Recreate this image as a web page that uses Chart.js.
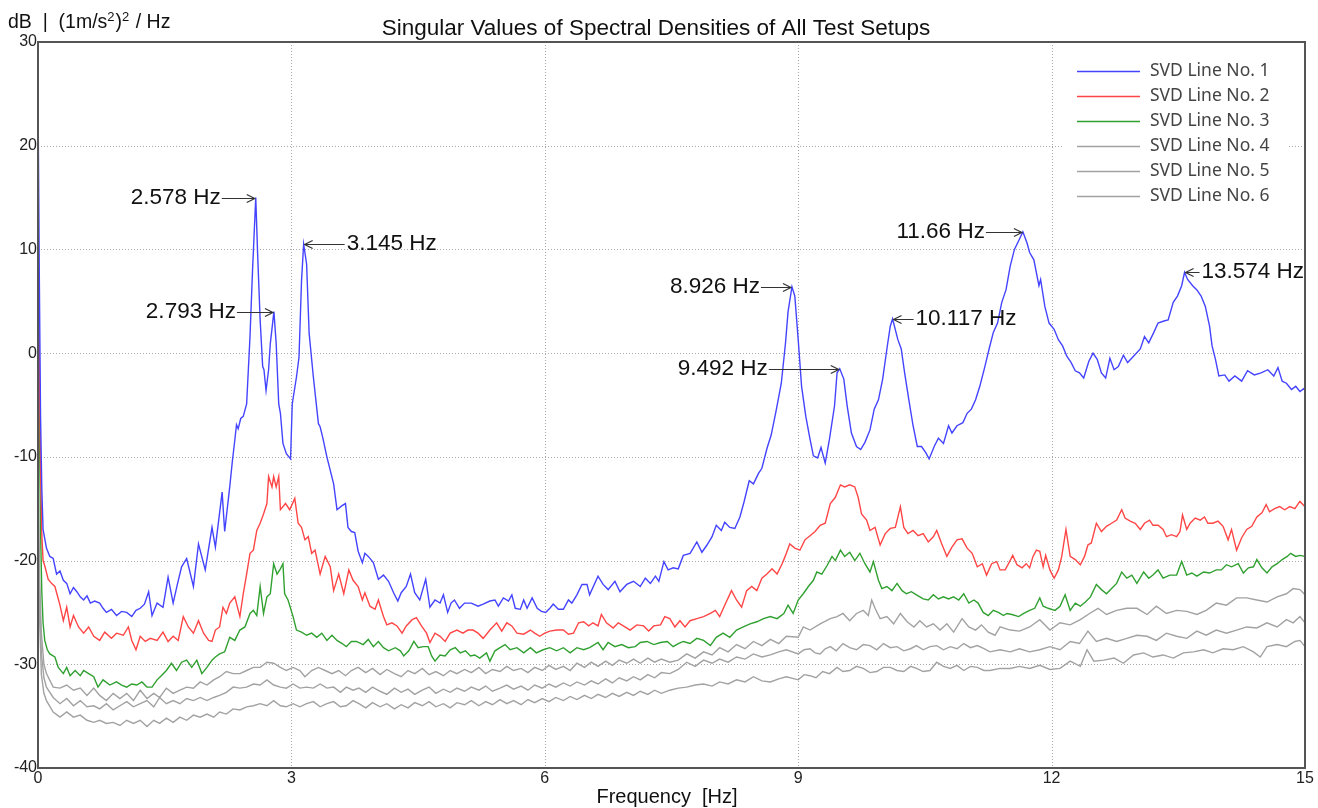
<!DOCTYPE html>
<html>
<head>
<meta charset="utf-8">
<title>SVD spectral densities</title>
<script src="https://cdn.jsdelivr.net/npm/chart.js@4.4.0/dist/chart.umd.min.js"></script>
<style>
  html, body { margin: 0; padding: 0; background: #fff; }
  #wrap { width: 1318px; height: 808px; }
</style>
</head>
<body>
<div id="wrap"><canvas id="svdChart" width="1318" height="808"></canvas></div>
<script>
// --- axis ticks ---
const xTicks = [0, 3, 6, 9, 12, 15];
const yTicks = [30, 20, 10, 0, -10, -20, -30, -40];

// --- singular value lines: [frequency Hz, level dB] ---
const svd1 = [
  [0,25],[0.015,8],[0.03,-6],[0.045,-13],[0.06,-17],[0.1,-18.8],[0.14,-19.6],[0.18,-19.8],[0.22,-21.3],[0.26,-21],
  [0.3,-21.9],[0.34,-22.2],[0.38,-23.2],[0.42,-22.6],[0.46,-23],[0.5,-23.5],[0.54,-23.8],[0.58,-23.4],[0.62,-24.1],[0.67,-23.9],
  [0.73,-24.1],[0.77,-24.6],[0.81,-25],[0.87,-24.7],[0.93,-25.3],[0.99,-24.9],[1.05,-25],[1.11,-25.4],[1.16,-24.8],[1.21,-24.6],
  [1.26,-24.2],[1.31,-23],[1.35,-25.3],[1.41,-24.1],[1.48,-24.5],[1.54,-21.6],[1.6,-24.1],[1.65,-22.3],[1.7,-20.6],[1.76,-19.8],
  [1.84,-22.5],[1.9,-18.4],[1.98,-20.9],[2.06,-16.8],[2.1,-18.7],[2.18,-13.4],[2.21,-17.2],[2.27,-12.9],[2.3,-10.5],[2.33,-8.4],
  [2.35,-6.9],[2.37,-7.3],[2.4,-6.3],[2.43,-6.1],[2.47,-4.9],[2.51,1.6],[2.54,8],[2.578,15],[2.6,9.6],[2.63,3.2],
  [2.66,-1.3],[2.675,-1.6],[2.7,-3.6],[2.73,-1.6],[2.75,0.9],[2.793,4],[2.82,0.9],[2.85,-4.9],[2.87,-5.8],[2.9,-8.7],
  [2.94,-9.7],[2.99,-10.2],[3.01,-4.9],[3.06,-2.3],[3.09,-0.4],[3.12,7],[3.145,10.5],[3.18,8.6],[3.21,1.9],[3.26,-2.3],
  [3.32,-6.8],[3.34,-7.1],[3.37,-8.1],[3.42,-10],[3.46,-11.3],[3.5,-12.6],[3.54,-15.1],[3.6,-14.7],[3.64,-14.5],[3.67,-16.8],
  [3.71,-17.2],[3.75,-17.3],[3.79,-19.1],[3.84,-20.2],[3.87,-19.3],[3.91,-19.6],[3.97,-20.2],[4.03,-21.8],[4.09,-21.4],[4.15,-22],
  [4.21,-23.1],[4.26,-23.9],[4.3,-23.1],[4.36,-22.5],[4.41,-21.3],[4.46,-23.1],[4.52,-23.8],[4.59,-21.8],[4.64,-24.5],[4.7,-23.8],
  [4.76,-24.1],[4.8,-23.3],[4.85,-25],[4.89,-24.1],[4.93,-23.8],[4.99,-24.6],[5.05,-24.1],[5.13,-24.1],[5.21,-24.4],[5.27,-24.2],
  [5.35,-23.9],[5.41,-23.8],[5.45,-24.4],[5.51,-23.6],[5.57,-23.9],[5.61,-23.3],[5.65,-24.6],[5.71,-24.7],[5.75,-23.8],[5.79,-24.6],
  [5.85,-23.6],[5.91,-24.6],[5.96,-24.9],[6.01,-25],[6.06,-24.6],[6.1,-24.2],[6.16,-24.7],[6.22,-24.7],[6.28,-23.8],[6.32,-24.1],
  [6.38,-23.3],[6.44,-22.3],[6.5,-22.3],[6.53,-23.3],[6.63,-21.5],[6.69,-22.3],[6.75,-22.8],[6.83,-22],[6.89,-23],[6.97,-22.3],
  [7.05,-22],[7.13,-22.5],[7.19,-21.7],[7.25,-22.2],[7.31,-21.5],[7.35,-22],[7.41,-20.1],[7.46,-20.9],[7.52,-20.7],[7.58,-20.8],
  [7.64,-19.5],[7.72,-19.3],[7.8,-18.2],[7.86,-19.2],[7.92,-18.5],[7.98,-17.7],[8.03,-16.6],[8.09,-17.1],[8.13,-16.3],[8.19,-16.8],
  [8.25,-16.9],[8.31,-15.8],[8.36,-14.3],[8.42,-12.3],[8.47,-12.6],[8.53,-11.6],[8.57,-11.1],[8.63,-9.2],[8.68,-7.9],[8.74,-5.5],
  [8.8,-2.9],[8.85,1],[8.88,4],[8.926,6.4],[8.96,5.5],[9,1.3],[9.04,-3.2],[9.09,-6.1],[9.14,-8.3],[9.18,-9.9],
  [9.23,-10.1],[9.27,-9.1],[9.32,-10.6],[9.37,-8.3],[9.43,-5.1],[9.46,-1.9],[9.492,-1.5],[9.54,-2.5],[9.58,-5.1],[9.63,-7.7],
  [9.69,-9],[9.74,-9.3],[9.79,-8.6],[9.85,-7.4],[9.9,-5.4],[9.95,-4.5],[10,-2.5],[10.05,0.4],[10.09,2.6],[10.117,3.3],
  [10.18,1.3],[10.22,0.4],[10.26,-1.9],[10.31,-4.5],[10.36,-7],[10.41,-9],[10.46,-9],[10.51,-9.6],[10.55,-10.2],[10.61,-9],
  [10.66,-8.2],[10.72,-8.7],[10.78,-7],[10.82,-7.7],[10.88,-7],[10.95,-6.7],[11,-5.8],[11.05,-5.4],[11.1,-4.5],[11.15,-3.2],
  [11.21,-1.3],[11.26,0.4],[11.31,2],[11.36,2.9],[11.41,4.9],[11.46,6.1],[11.51,8.4],[11.56,10],[11.62,11],[11.66,11.7],
  [11.71,10.6],[11.74,9.7],[11.79,9],[11.85,6.5],[11.87,7.1],[11.92,4.5],[11.97,2.9],[12.03,2.3],[12.08,1.3],[12.13,0.7],
  [12.18,-0.3],[12.23,-0.9],[12.28,-1.7],[12.33,-1.9],[12.38,-2.4],[12.44,-0.8],[12.49,0],[12.54,-0.6],[12.59,-1.9],[12.64,-2.4],
  [12.69,-0.5],[12.74,-1.6],[12.79,-1.3],[12.85,-0.2],[12.9,-0.9],[12.97,-0.3],[13.05,0.4],[13.1,1.6],[13.15,1],[13.21,2],
  [13.26,2.9],[13.33,3.1],[13.38,3.2],[13.44,4.9],[13.49,5.5],[13.54,6.5],[13.574,7.8],[13.61,7.1],[13.67,6.5],[13.72,6.1],
  [13.77,5.5],[13.82,4.5],[13.87,2.6],[13.9,0.7],[13.94,-0.6],[13.98,-2.2],[14.05,-2.1],[14.1,-2.7],[14.17,-2.2],[14.25,-2.7],
  [14.32,-1.7],[14.4,-2.1],[14.48,-1.9],[14.56,-1.6],[14.63,-2.2],[14.68,-1.4],[14.73,-2.7],[14.78,-2.9],[14.84,-3.5],[14.89,-3.2],
  [14.94,-3.7],[14.99,-3.4],[15,-3.6]
];

const svd2 = [
  [0,12.5],[0.015,0],[0.03,-11],[0.045,-17.5],[0.06,-20],[0.08,-20.5],[0.12,-21.8],[0.16,-22.2],[0.2,-22.5],[0.26,-24.3],
  [0.3,-25.8],[0.34,-24.5],[0.38,-26.4],[0.42,-25.3],[0.48,-26.4],[0.54,-27],[0.6,-26.4],[0.66,-27.3],[0.73,-27.7],[0.79,-26.9],
  [0.87,-27.5],[0.93,-27],[1.01,-27.2],[1.07,-26.4],[1.11,-27.7],[1.16,-28.6],[1.21,-27.3],[1.27,-27.8],[1.33,-27.5],[1.41,-27.7],
  [1.48,-26.9],[1.54,-27.8],[1.6,-27.3],[1.66,-27.7],[1.72,-25.4],[1.78,-26.4],[1.84,-27],[1.9,-25.8],[1.96,-27],[2.02,-27.7],
  [2.06,-27.8],[2.1,-26.7],[2.15,-26.4],[2.19,-24.5],[2.23,-25.1],[2.27,-24.1],[2.33,-23.5],[2.39,-25.4],[2.43,-23.2],[2.47,-21.3],
  [2.51,-19.3],[2.55,-19],[2.59,-17.1],[2.63,-16.4],[2.67,-15.5],[2.71,-14.5],[2.73,-11.9],[2.77,-12.9],[2.79,-11.9],[2.82,-12.9],
  [2.85,-11.9],[2.87,-15.1],[2.93,-14.5],[2.98,-15.1],[3.04,-14],[3.08,-16.4],[3.12,-16.8],[3.16,-18],[3.2,-17.7],[3.24,-19.3],
  [3.28,-19],[3.34,-21.3],[3.4,-19.6],[3.46,-20.6],[3.5,-22.9],[3.56,-21.3],[3.62,-23.2],[3.68,-20.9],[3.73,-21.9],[3.79,-22.5],
  [3.84,-23.8],[3.87,-23.1],[3.93,-24.4],[3.99,-24.7],[4.03,-23.8],[4.09,-25.4],[4.13,-26.2],[4.19,-26],[4.25,-26.3],[4.31,-27],
  [4.36,-26.3],[4.43,-25.7],[4.48,-25.5],[4.54,-26.3],[4.6,-27],[4.64,-27.9],[4.7,-27],[4.76,-27.3],[4.82,-27.8],[4.88,-27],
  [4.96,-26.7],[5.03,-27],[5.09,-26.7],[5.15,-26.7],[5.21,-27],[5.27,-27.5],[5.35,-26.7],[5.43,-26],[5.49,-26.8],[5.55,-26],
  [5.61,-26.3],[5.67,-27],[5.75,-27.1],[5.83,-26.7],[5.88,-27],[5.94,-27.3],[6,-27],[6.06,-26.8],[6.14,-26.7],[6.22,-26.7],
  [6.28,-27.1],[6.34,-27],[6.4,-26],[6.46,-25.9],[6.52,-26.3],[6.57,-26],[6.63,-26.3],[6.67,-25.2],[6.73,-26],[6.81,-26.5],
  [6.87,-26],[6.93,-26.3],[7.01,-26.7],[7.09,-26.2],[7.17,-26.3],[7.23,-26.8],[7.29,-26.3],[7.37,-26.2],[7.42,-25.4],[7.48,-25.6],
  [7.54,-26.4],[7.6,-25.8],[7.66,-26.4],[7.72,-25.8],[7.8,-25.6],[7.88,-25.4],[7.96,-25.1],[8.02,-24.8],[8.07,-25.4],[8.13,-24.3],
  [8.21,-22.9],[8.27,-23.8],[8.33,-24.5],[8.39,-22.9],[8.45,-22.5],[8.51,-22.9],[8.57,-21.7],[8.63,-21.3],[8.69,-20.8],[8.75,-21.3],
  [8.81,-20.3],[8.85,-19.5],[8.9,-18.4],[8.96,-18.8],[9.02,-19],[9.08,-18],[9.14,-17.6],[9.2,-17.2],[9.26,-16.6],[9.32,-16.4],
  [9.38,-14.5],[9.44,-13.9],[9.5,-12.7],[9.55,-12.9],[9.61,-12.7],[9.67,-12.9],[9.71,-13.9],[9.75,-15.5],[9.81,-16.1],[9.85,-17.1],
  [9.91,-16.8],[9.97,-18.5],[10.03,-17.4],[10.09,-16.9],[10.15,-16.8],[10.21,-14.8],[10.25,-16.8],[10.3,-17.4],[10.36,-17.1],[10.42,-17.6],
  [10.48,-17.4],[10.54,-18.2],[10.6,-17.7],[10.64,-17.1],[10.7,-18.4],[10.76,-19.6],[10.82,-18.7],[10.88,-18],[10.94,-17.9],[11,-18.8],
  [11.06,-19.3],[11.12,-20.6],[11.18,-20.3],[11.23,-21.4],[11.29,-20.3],[11.35,-20.1],[11.39,-20.9],[11.45,-20.9],[11.49,-20.3],[11.54,-19.5],
  [11.59,-20.4],[11.65,-20.7],[11.7,-20.3],[11.74,-20.7],[11.78,-19.6],[11.82,-19],[11.86,-19.1],[11.9,-20.6],[11.93,-19.5],[11.98,-20.9],
  [12.03,-21.7],[12.08,-20.9],[12.12,-19.6],[12.17,-17],[12.22,-19.6],[12.28,-19.9],[12.34,-20.4],[12.39,-19.6],[12.43,-18.5],[12.47,-18.3],
  [12.53,-16.4],[12.59,-17.2],[12.65,-16.7],[12.71,-16.4],[12.77,-16.1],[12.83,-15.1],[12.87,-15.9],[12.93,-16.2],[12.99,-16.4],[13.05,-17],
  [13.1,-16.4],[13.16,-16.1],[13.2,-16.6],[13.26,-16.6],[13.32,-17],[13.36,-17.7],[13.42,-17.5],[13.48,-17.7],[13.52,-17.2],[13.55,-15.6],
  [13.6,-17],[13.64,-16.4],[13.7,-15.9],[13.76,-16.1],[13.81,-15.8],[13.85,-16.4],[13.91,-16.4],[13.97,-16.2],[14.03,-16.7],[14.09,-18],
  [14.13,-17],[14.19,-19],[14.25,-17.8],[14.31,-17],[14.37,-16.7],[14.43,-15.8],[14.49,-15.4],[14.54,-14.6],[14.58,-15.3],[14.64,-15],
  [14.7,-14.8],[14.76,-15.1],[14.82,-14.8],[14.88,-15],[14.94,-14.3],[15,-14.8]
];

const svd3 = [
  [0,5.5],[0.015,-6],[0.03,-17],[0.045,-23],[0.06,-26],[0.08,-27.7],[0.11,-28.6],[0.14,-29],[0.2,-29.3],[0.24,-30.3],
  [0.3,-30.9],[0.34,-30.3],[0.38,-31.1],[0.44,-30.6],[0.5,-31.1],[0.54,-30.6],[0.6,-30.9],[0.66,-31.2],[0.71,-32.2],[0.77,-31.5],
  [0.85,-32],[0.93,-31.7],[0.99,-32],[1.05,-32.2],[1.11,-31.9],[1.17,-32],[1.23,-31.7],[1.29,-32.2],[1.35,-32.2],[1.41,-31.5],
  [1.46,-31.1],[1.52,-30.6],[1.58,-29.9],[1.64,-30.6],[1.7,-29.8],[1.76,-29.6],[1.82,-30.3],[1.88,-29.6],[1.94,-30.9],[2,-30.3],
  [2.06,-29.6],[2.1,-29.3],[2.15,-29],[2.21,-28.8],[2.27,-27.4],[2.33,-27.7],[2.39,-26.7],[2.45,-26.4],[2.51,-25.1],[2.55,-24.8],
  [2.59,-25.3],[2.63,-22.5],[2.67,-25.1],[2.71,-23.5],[2.75,-23.2],[2.79,-20.3],[2.83,-21.3],[2.87,-20.8],[2.9,-20.3],[2.92,-23.2],
  [2.96,-23.8],[3.02,-25.4],[3.06,-26.7],[3.12,-26.9],[3.18,-27.2],[3.24,-27],[3.3,-27.4],[3.36,-27],[3.42,-27.7],[3.48,-27.2],
  [3.54,-27.7],[3.6,-28],[3.65,-28.3],[3.71,-27.8],[3.77,-27.8],[3.85,-28.1],[3.91,-27.6],[3.97,-28.3],[4.03,-27.8],[4.09,-28.4],
  [4.15,-28.7],[4.23,-28.4],[4.29,-28.7],[4.33,-29.2],[4.39,-28.7],[4.45,-27.8],[4.5,-28.4],[4.56,-28.3],[4.62,-28.3],[4.66,-29.2],
  [4.7,-29.7],[4.76,-29.1],[4.82,-29.2],[4.88,-28.6],[4.94,-28.4],[5,-28.9],[5.06,-28.7],[5.12,-29.2],[5.17,-29.1],[5.23,-29.4],
  [5.31,-28.9],[5.35,-29.7],[5.41,-28.7],[5.47,-28.4],[5.53,-28.1],[5.59,-28.6],[5.67,-28.4],[5.75,-28.9],[5.83,-28.4],[5.9,-28.9],
  [5.98,-28.6],[6.06,-28.4],[6.14,-28.7],[6.22,-28.4],[6.3,-28.9],[6.38,-28.4],[6.46,-28.6],[6.53,-28.4],[6.63,-27.9],[6.69,-28.6],
  [6.75,-27.9],[6.83,-28.3],[6.91,-28.1],[6.99,-28.4],[7.07,-28.3],[7.13,-27.9],[7.21,-27.8],[7.29,-28.1],[7.37,-27.9],[7.45,-27.8],
  [7.52,-28.3],[7.58,-28],[7.64,-27.8],[7.72,-28],[7.8,-27.5],[7.88,-27.7],[7.96,-28.2],[8.03,-27.4],[8.11,-27],[8.19,-27.4],
  [8.27,-26.7],[8.35,-26.4],[8.43,-26.1],[8.51,-25.9],[8.59,-25.6],[8.67,-25.4],[8.75,-25.6],[8.83,-25.1],[8.88,-24.3],[8.94,-25.1],
  [9,-23.8],[9.06,-23.2],[9.12,-22.5],[9.18,-21.9],[9.22,-21.1],[9.28,-21.3],[9.34,-20.5],[9.4,-19.6],[9.44,-20],[9.5,-19],
  [9.55,-19.6],[9.61,-19.2],[9.67,-20],[9.73,-19.3],[9.79,-20.3],[9.85,-21.1],[9.89,-20.1],[9.95,-21.9],[9.99,-22.7],[10.05,-22.5],
  [10.11,-22.9],[10.17,-22.2],[10.23,-22.9],[10.28,-23.2],[10.34,-23],[10.4,-23.3],[10.48,-23.7],[10.54,-23.8],[10.6,-23.3],[10.66,-23.7],
  [10.72,-23.5],[10.78,-23.7],[10.84,-23.5],[10.9,-23.8],[10.96,-23.2],[11.02,-24.1],[11.08,-23.8],[11.13,-24.1],[11.19,-25],[11.25,-25.3],
  [11.31,-24.8],[11.37,-25],[11.43,-25.3],[11.47,-25.1],[11.53,-25.2],[11.61,-25.4],[11.67,-25.1],[11.74,-24.8],[11.8,-24.6],[11.86,-23.6],
  [11.9,-24.4],[11.96,-24.6],[12.04,-24.8],[12.1,-24.4],[12.16,-23.3],[12.22,-24.8],[12.28,-24.1],[12.34,-24.4],[12.4,-24],[12.46,-23.5],
  [12.53,-22.3],[12.59,-22.8],[12.65,-23.2],[12.71,-22.7],[12.77,-22.2],[12.83,-21.1],[12.89,-21.7],[12.95,-21.4],[13.01,-22.2],[13.09,-21.1],
  [13.15,-21.7],[13.2,-21.4],[13.26,-20.9],[13.32,-21.7],[13.4,-21.4],[13.48,-21.4],[13.54,-20.1],[13.6,-21.4],[13.66,-21.2],[13.72,-21.5],
  [13.8,-21.1],[13.87,-21.2],[13.95,-20.9],[14.01,-20.9],[14.07,-20.4],[14.13,-20.6],[14.21,-20.3],[14.27,-21.2],[14.33,-20.7],[14.39,-20.6],
  [14.43,-19.9],[14.49,-20.7],[14.55,-21.2],[14.61,-20.6],[14.67,-20.3],[14.73,-19.9],[14.79,-19.6],[14.83,-19.3],[14.89,-19.6],[14.94,-19.5],
  [15,-19.6]
];

const svd4 = [
  [0,-12],[0.02,-22],[0.04,-27],[0.07,-30],[0.1,-30.9],[0.18,-32.2],[0.26,-32.3],[0.34,-32],[0.42,-32.5],[0.5,-32.3],
  [0.58,-33],[0.66,-32.3],[0.73,-33],[0.81,-33.5],[0.89,-32.8],[0.97,-33.3],[1.05,-32.8],[1.13,-33.5],[1.21,-32.5],[1.29,-33.3],
  [1.37,-32.8],[1.44,-33.2],[1.52,-32.3],[1.6,-32.8],[1.68,-32.5],[1.76,-32.2],[1.84,-32.3],[1.92,-31.7],[2,-32],[2.08,-31.5],
  [2.15,-31.2],[2.23,-30.7],[2.31,-30.9],[2.39,-30.9],[2.47,-30.6],[2.55,-30.3],[2.63,-30.3],[2.71,-29.8],[2.79,-29.9],[2.87,-30.3],
  [2.94,-30.6],[3.02,-30.3],[3.1,-30.6],[3.16,-31.2],[3.24,-30.6],[3.32,-30.3],[3.4,-30.6],[3.48,-30.9],[3.56,-30.6],[3.64,-31.1],
  [3.71,-30.6],[3.79,-30.3],[3.88,-30.8],[3.96,-30.4],[4.05,-31],[4.13,-30.5],[4.22,-30.9],[4.3,-31.2],[4.38,-30.6],[4.46,-30.9],
  [4.55,-30.4],[4.63,-31],[4.71,-30.7],[4.8,-31.1],[4.88,-30.6],[4.96,-30.9],[5.05,-30.5],[5.13,-30.8],[5.22,-30.3],[5.3,-30.9],
  [5.38,-30.5],[5.47,-30.7],[5.55,-30.2],[5.63,-30.6],[5.72,-30.4],[5.8,-30.8],[5.88,-30.3],[5.97,-30.6],[6.05,-30.1],[6.13,-30.5],
  [6.22,-30.2],[6.3,-30.6],[6.38,-29.9],[6.47,-30.3],[6.55,-29.8],[6.63,-30.2],[6.72,-29.7],[6.8,-30.1],[6.88,-29.6],[6.97,-29.9],
  [7.05,-29.5],[7.13,-29.9],[7.22,-29.4],[7.3,-29.8],[7.38,-29.5],[7.48,-29.8],[7.58,-29.6],[7.68,-29],[7.78,-29.4],[7.88,-28.8],
  [7.98,-29.1],[8.07,-28.4],[8.17,-28.8],[8.27,-28.1],[8.37,-28.5],[8.47,-27.8],[8.57,-28.2],[8.67,-27.6],[8.77,-28],[8.86,-27.3],
  [9,-27.4],[9.06,-26.4],[9.14,-26.7],[9.26,-26.1],[9.38,-25.6],[9.46,-25.4],[9.53,-25.1],[9.61,-25.8],[9.69,-25.1],[9.77,-24.8],
  [9.83,-25.3],[9.87,-23.8],[9.91,-24.6],[9.97,-25.6],[10.05,-25.4],[10.13,-26.1],[10.21,-25.1],[10.29,-25.9],[10.37,-26.4],[10.44,-25.8],
  [10.52,-26.4],[10.6,-26.1],[10.68,-26.7],[10.76,-26.1],[10.84,-26.9],[10.94,-25.6],[11.02,-26.4],[11.1,-26.7],[11.17,-26.2],[11.25,-26.9],
  [11.33,-27.2],[11.39,-26.4],[11.51,-26.7],[11.62,-26.8],[11.74,-26.4],[11.86,-25.7],[11.98,-26.7],[12.1,-26],[12.22,-26.2],[12.34,-25.7],
  [12.45,-25.1],[12.55,-24.6],[12.65,-25.2],[12.77,-24.8],[12.89,-24.6],[13.01,-24.6],[13.13,-25.2],[13.24,-24.4],[13.36,-25.1],[13.48,-24.8],
  [13.6,-24.9],[13.72,-25.2],[13.83,-24.8],[13.95,-24.1],[14.07,-24.3],[14.19,-23.6],[14.31,-23.6],[14.43,-23.8],[14.55,-24],[14.67,-23.5],
  [14.78,-23.2],[14.86,-22.7],[14.94,-22.8],[15,-23.3]
];

const svd5 = [
  [0,-14],[0.02,-24],[0.04,-29],[0.07,-31.3],[0.1,-32.2],[0.18,-33.2],[0.26,-33.8],[0.34,-33.3],[0.42,-34],[0.5,-33.5],
  [0.58,-34.1],[0.66,-34],[0.73,-34.3],[0.81,-33.8],[0.89,-34.4],[0.97,-34],[1.05,-33.6],[1.13,-34.1],[1.21,-33.8],[1.29,-33.5],
  [1.37,-34.1],[1.44,-33.2],[1.52,-33.8],[1.6,-33.5],[1.68,-33.8],[1.76,-33.3],[1.84,-33.5],[1.92,-33.2],[2,-33.5],[2.08,-33.2],
  [2.15,-33],[2.23,-32.7],[2.31,-32.2],[2.39,-32.3],[2.47,-32.2],[2.55,-31.9],[2.63,-32],[2.71,-31.5],[2.79,-32],[2.87,-32.2],
  [2.94,-32.3],[3.02,-31.9],[3.1,-32.3],[3.18,-32.2],[3.26,-32.3],[3.34,-31.9],[3.42,-32.3],[3.5,-32.2],[3.58,-32.7],[3.65,-32.2],
  [3.73,-32.5],[3.8,-32.3],[3.88,-32.7],[3.96,-32.2],[4.05,-32.6],[4.13,-32.9],[4.22,-32.3],[4.3,-32.7],[4.38,-32.4],[4.46,-32.9],
  [4.55,-32.5],[4.63,-32.2],[4.71,-32.8],[4.8,-32.4],[4.88,-32.7],[4.96,-32.3],[5.05,-32.6],[5.13,-32.2],[5.22,-32.5],[5.3,-32.1],
  [5.38,-32.6],[5.47,-32.3],[5.55,-32],[5.63,-32.4],[5.72,-32.1],[5.8,-32.5],[5.88,-32],[5.97,-32.3],[6.05,-31.9],[6.13,-32.2],
  [6.22,-31.8],[6.3,-32.1],[6.38,-31.7],[6.47,-32],[6.55,-31.6],[6.63,-31.9],[6.72,-31.4],[6.8,-31.8],[6.88,-31.3],[6.97,-31.6],
  [7.05,-31.2],[7.13,-31.5],[7.22,-31],[7.3,-31.3],[7.38,-30.8],[7.48,-30.9],[7.58,-30.5],[7.68,-29.8],[7.78,-30.2],[7.88,-29.6],
  [7.98,-29.9],[8.07,-29.5],[8.17,-29.8],[8.27,-29.3],[8.37,-29.5],[8.47,-29],[8.57,-29.3],[8.67,-29.1],[8.77,-28.8],[8.86,-28.6],
  [9,-29],[9.07,-28.6],[9.14,-28.5],[9.2,-28.9],[9.26,-29],[9.32,-28.5],[9.38,-28.3],[9.45,-28.7],[9.53,-28],[9.61,-28.4],
  [9.69,-28.6],[9.77,-28.1],[9.85,-28.2],[9.93,-28.6],[10.01,-28],[10.09,-28.4],[10.17,-28.3],[10.25,-28.7],[10.33,-28.5],[10.4,-28.2],
  [10.48,-28.6],[10.56,-28.3],[10.64,-28.2],[10.72,-28.6],[10.8,-28.3],[10.88,-28.5],[10.96,-28],[11.04,-28.4],[11.12,-28.2],[11.2,-28.5],
  [11.27,-28.8],[11.39,-28.6],[11.51,-28.8],[11.62,-28.5],[11.74,-28.8],[11.86,-28.6],[11.98,-28.3],[12.1,-28.6],[12.22,-27.8],[12.33,-28],
  [12.43,-26.8],[12.53,-27.8],[12.65,-27.5],[12.77,-27.8],[12.89,-27.5],[13.01,-27.2],[13.13,-27.3],[13.24,-27.7],[13.36,-27],[13.48,-27.3],
  [13.6,-27.5],[13.72,-26.8],[13.83,-27.2],[13.95,-26.7],[14.07,-27],[14.19,-26.7],[14.31,-26.4],[14.43,-26.5],[14.55,-26],[14.67,-26.4],
  [14.78,-25.7],[14.86,-26],[14.94,-25.4],[15,-26]
];

const svd6 = [
  [0,-16],[0.02,-26],[0.04,-31],[0.07,-32.8],[0.1,-33.5],[0.18,-34.6],[0.26,-35.1],[0.34,-34.6],[0.42,-35.1],[0.5,-34.9],
  [0.58,-35.4],[0.66,-35.6],[0.73,-35.4],[0.81,-35.7],[0.89,-35.6],[0.97,-35.9],[1.05,-35.4],[1.13,-35.7],[1.21,-35.4],[1.29,-36],
  [1.37,-35.4],[1.44,-35.7],[1.52,-35.2],[1.6,-35.6],[1.68,-35.1],[1.76,-35.4],[1.84,-34.9],[1.92,-35.1],[2,-34.8],[2.08,-35.1],
  [2.15,-34.6],[2.23,-34.8],[2.31,-34.3],[2.39,-34.4],[2.47,-34.1],[2.55,-34],[2.63,-33.8],[2.71,-34],[2.79,-33.5],[2.87,-34],
  [2.94,-34.1],[3.02,-33.8],[3.1,-34.1],[3.18,-33.8],[3.26,-33.6],[3.34,-34.1],[3.42,-33.8],[3.5,-33.6],[3.58,-34.1],[3.65,-34],
  [3.73,-33.5],[3.8,-33.8],[3.88,-34.2],[3.96,-33.7],[4.05,-34.1],[4.13,-33.8],[4.22,-34.3],[4.3,-33.9],[4.38,-34.2],[4.46,-33.7],
  [4.55,-34],[4.63,-33.6],[4.71,-34.1],[4.8,-33.8],[4.88,-34.2],[4.96,-33.7],[5.05,-33.9],[5.13,-33.5],[5.22,-34],[5.3,-33.6],
  [5.38,-33.9],[5.47,-33.4],[5.55,-33.8],[5.63,-33.5],[5.72,-33.9],[5.8,-33.4],[5.88,-33.7],[5.97,-33.3],[6.05,-33.6],[6.13,-33.2],
  [6.22,-33.5],[6.3,-33.1],[6.38,-33.4],[6.47,-33],[6.55,-33.3],[6.63,-32.9],[6.72,-33.2],[6.8,-32.8],[6.88,-33.1],[6.97,-32.7],
  [7.05,-33],[7.13,-32.6],[7.22,-32.9],[7.3,-32.5],[7.38,-32.8],[7.48,-32.5],[7.58,-32.3],[7.68,-32.2],[7.78,-32],[7.88,-31.9],
  [7.98,-32.1],[8.07,-31.7],[8.17,-31.9],[8.27,-31.5],[8.37,-31.7],[8.47,-31.2],[8.57,-31.6],[8.67,-31.7],[8.77,-31.4],[8.86,-31.2],
  [9,-31.5],[9.07,-31],[9.14,-31.1],[9.21,-31.3],[9.29,-30.7],[9.37,-30.9],[9.46,-30.3],[9.53,-30.7],[9.61,-30.6],[9.69,-30.2],
  [9.77,-30.4],[9.85,-30.8],[9.93,-30.7],[10.01,-30.3],[10.09,-30.3],[10.17,-30.6],[10.25,-30.7],[10.33,-30.2],[10.4,-30.4],[10.48,-30.7],
  [10.56,-30.6],[10.64,-29.8],[10.72,-30.2],[10.8,-30.4],[10.88,-30.1],[10.96,-30.6],[11.04,-30.2],[11.12,-30.3],[11.2,-30.6],[11.27,-30.6],
  [11.39,-30.4],[11.51,-30.4],[11.62,-30.2],[11.74,-30.4],[11.86,-30.1],[11.98,-30.5],[12.1,-30.4],[12.22,-29.7],[12.34,-30.2],[12.42,-28.6],
  [12.5,-29.7],[12.62,-29.6],[12.74,-29.4],[12.85,-29.9],[12.97,-29.1],[13.09,-28.9],[13.2,-29.3],[13.32,-29.1],[13.44,-29.4],[13.56,-28.9],
  [13.68,-28.8],[13.8,-28.6],[13.91,-28.9],[14.03,-28.5],[14.15,-28.6],[14.27,-28.3],[14.39,-28.8],[14.47,-29.3],[14.55,-28.3],[14.67,-28.1],
  [14.78,-28.3],[14.88,-27.8],[14.94,-27.7],[15,-28.3]
];

const seriesLabels = ['SVD Line No. 1', 'SVD Line No. 2', 'SVD Line No. 3', 'SVD Line No. 4', 'SVD Line No. 5', 'SVD Line No. 6'];
const seriesColors = ['#4444ff', '#ff4646', '#30a030', '#a2a2a2', '#a2a2a2', '#a2a2a2'];
const seriesPoints = [svd1, svd2, svd3, svd4, svd5, svd6];

// --- peak markers on line 1 ---
const peakFreqs = [2.578, 2.793, 3.145, 8.926, 9.492, 10.117, 11.66, 13.574];
const peakSides = ['left', 'left', 'right', 'left', 'left', 'right', 'left', 'right'];
const arrowLengths = [33, 36, 40, 30, 70, 20, 36, 14];

const SANS = "'Liberation Sans', Arial, sans-serif";

function peakLevel(f) {
  const hit = svd1.find(p => p[0] === f);
  return hit ? hit[1] : 0;
}

// dotted grid behind the lines
const dottedGrid = {
  id: 'dottedGrid',
  beforeDatasetsDraw(chart) {
    const { ctx, chartArea: a, scales: { x, y } } = chart;
    ctx.save();
    ctx.strokeStyle = '#a9a9a9';
    ctx.lineWidth = 1;
    ctx.setLineDash([1, 2]);
    xTicks.forEach(v => {
      const px = Math.round(x.getPixelForValue(v)) + 0.5;
      ctx.beginPath(); ctx.moveTo(px, a.top); ctx.lineTo(px, a.bottom); ctx.stroke();
    });
    yTicks.forEach(v => {
      const py = Math.round(y.getPixelForValue(v)) + 0.5;
      ctx.beginPath(); ctx.moveTo(a.left, py); ctx.lineTo(a.right, py); ctx.stroke();
    });
    ctx.restore();
  }
};

function drawArrow(ctx, x0, x1, y) {
  // straight shaft with an open head at x1
  const dir = x1 > x0 ? 1 : -1;
  ctx.beginPath();
  ctx.moveTo(x0, y); ctx.lineTo(x1, y);
  ctx.moveTo(x1 - dir * 8, y - 4); ctx.lineTo(x1, y); ctx.lineTo(x1 - dir * 8, y + 4);
  ctx.stroke();
}

// frame, legend, peak labels and texts
const overlay = {
  id: 'overlay',
  afterDatasetsDraw(chart) {
    const { ctx, chartArea: a, scales: { x, y } } = chart;
    ctx.save();

    // peak labels with arrows
    ctx.strokeStyle = '#333';
    ctx.lineWidth = 1.2;
    ctx.fillStyle = '#111';
    ctx.font = '22.5px ' + SANS;
    ctx.textBaseline = 'middle';
    peakFreqs.forEach((f, i) => {
      const px = x.getPixelForValue(f);
      const py = Math.round(y.getPixelForValue(peakLevel(f))) + 0.5;
      const len = arrowLengths[i];
      const label = f + ' Hz';
      if (peakSides[i] === 'left') {
        drawArrow(ctx, px - 1 - len, px - 1, py);
        ctx.textAlign = 'right';
        ctx.fillText(label, px - 2 - len, py - 1);
      } else {
        drawArrow(ctx, px + 1 + len, px + 1, py);
        ctx.textAlign = 'left';
        ctx.fillText(label, px + 3 + len, py - 1);
      }
    });

    // legend box
    ctx.fillStyle = '#fff';
    ctx.fillRect(1063, 55, 226, 154);
    ctx.font = '17.5px ' + "'Noto Sans', 'Open Sans', sans-serif";
    ctx.textAlign = 'left';
    seriesLabels.forEach((lab, i) => {
      const ly = 71 + i * 25 + 0.5;
      ctx.strokeStyle = seriesColors[i];
      ctx.lineWidth = 1.5;
      ctx.beginPath(); ctx.moveTo(1077, ly); ctx.lineTo(1140, ly); ctx.stroke();
      ctx.fillStyle = '#444';
      ctx.fillText(lab, 1150, ly);
    });

    // plot frame
    ctx.strokeStyle = '#555';
    ctx.lineWidth = 2;
    ctx.strokeRect(a.left, a.top, a.right - a.left, a.bottom - a.top);
    ctx.restore();
  },
  afterDraw(chart) {
    const ctx = chart.ctx;
    ctx.save();
    ctx.fillStyle = '#111';
    ctx.textBaseline = 'alphabetic';

    ctx.font = '22.5px ' + SANS;
    ctx.textAlign = 'center';
    ctx.fillText('Singular Values of Spectral Densities of All Test Setups', 656, 35);

    ctx.font = '20px ' + SANS;
    ctx.fillText('Frequency  [Hz]', 667, 803);

    // unit text with superscripts
    ctx.textAlign = 'left';
    const parts = [['dB  |  (1m/s', false], ['2', true], [')', false], ['2', true], [' / Hz', false]];
    let cx = 8;
    parts.forEach(([t, sup]) => {
      ctx.font = (sup ? '13px ' : '19.5px ') + SANS;
      ctx.fillText(t, cx, sup ? 21 : 28);
      cx += ctx.measureText(t).width + (sup ? 1 : 0);
    });
    ctx.restore();
  }
};

const ctx = document.getElementById('svdChart').getContext('2d');
new Chart(ctx, {
  type: 'line',
  data: {
    datasets: seriesPoints.map((pts, i) => ({
      label: seriesLabels[i],
      data: pts.map(([f, v]) => ({ x: f, y: v })),
      borderColor: seriesColors[i],
      borderWidth: 1.4,
      pointRadius: 0,
      tension: 0,
      fill: false
    }))
  },
  options: {
    responsive: false,
    animation: false,
    events: [],
    devicePixelRatio: 1,
    layout: { padding: { top: 42, right: 13, left: 0, bottom: 0 } },
    plugins: { legend: { display: false }, tooltip: { enabled: false } },
    scales: {
      x: {
        type: 'linear',
        min: 0,
        max: 15,
        grid: { display: false, drawTicks: false, tickLength: 0 },
        border: { display: false },
        afterBuildTicks: s => { s.ticks = xTicks.map(v => ({ value: v })); },
        afterFit: s => { s.height = 40; },
        ticks: {
          autoSkip: false,
          maxRotation: 0,
          padding: 1,
          color: '#222',
          font: { family: SANS, size: 16 }
        }
      },
      y: {
        type: 'linear',
        min: -40,
        max: 30,
        grid: { display: false, drawTicks: false, tickLength: 0 },
        border: { display: false },
        afterBuildTicks: s => { s.ticks = yTicks.map(v => ({ value: v })); },
        afterFit: s => { s.width = 38; },
        ticks: {
          padding: 1,
          color: '#222',
          font: { family: SANS, size: 16 }
        }
      }
    }
  },
  plugins: [dottedGrid, overlay]
});
</script>
</body>
</html>
